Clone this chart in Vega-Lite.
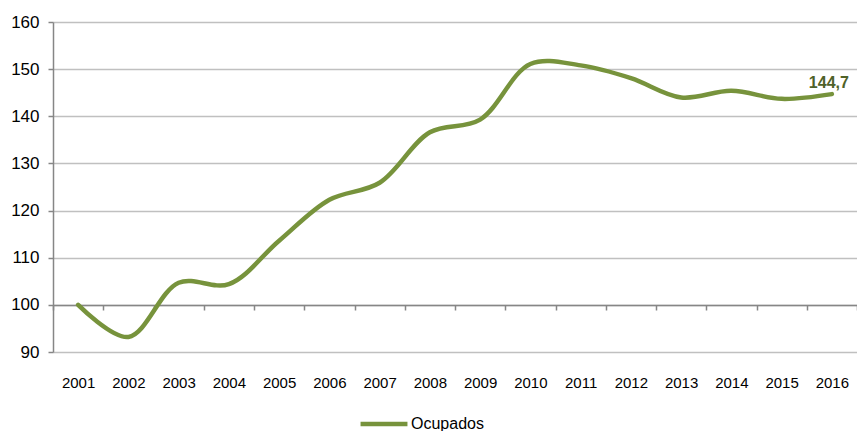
{
  "$schema": "https://vega.github.io/schema/vega-lite/v6.json",
  "width": 804,
  "height": 330,
  "autosize": "none",
  "padding": {"left": 53, "top": 22, "right": 0, "bottom": 79},
  "background": "white",
  "config": {
    "font": "Liberation Sans",
    "view": {"stroke": null}
  },
  "data": {
    "values": [
      {"year": "2001", "value": 100.0},
      {"year": "2002", "value": 93.2},
      {"year": "2003", "value": 104.7},
      {"year": "2004", "value": 104.4},
      {"year": "2005", "value": 113.6},
      {"year": "2006", "value": 122.3},
      {"year": "2007", "value": 125.9},
      {"year": "2008", "value": 136.6},
      {"year": "2009", "value": 139.3},
      {"year": "2010", "value": 151.1},
      {"year": "2011", "value": 150.8},
      {"year": "2012", "value": 148.1},
      {"year": "2013", "value": 144.0},
      {"year": "2014", "value": 145.4},
      {"year": "2015", "value": 143.7},
      {"year": "2016", "value": 144.7, "label": "144,7"}
    ]
  },
  "encoding": {
    "x": {
      "field": "year",
      "type": "ordinal",
      "scale": {"type": "band", "paddingInner": 0, "paddingOuter": 0},
      "axis": {
        "title": null,
        "orient": "bottom",
        "offset": -47,
        "tickBand": "extent",
        "grid": false,
        "domainColor": "#868686",
        "domainWidth": 1.5,
        "tickColor": "#868686",
        "tickWidth": 1.5,
        "tickSize": 5,
        "labelPadding": 65,
        "labelFontSize": 15,
        "labelColor": "#000000",
        "labelAngle": 0
      }
    },
    "y": {
      "field": "value",
      "type": "quantitative",
      "scale": {"domain": [90, 160], "nice": false, "zero": false},
      "axis": {
        "title": null,
        "values": [90, 100, 110, 120, 130, 140, 150, 160],
        "grid": true,
        "gridColor": "#c0c0c0",
        "gridWidth": 1.5,
        "domainColor": "#868686",
        "domainWidth": 1.5,
        "tickColor": "#868686",
        "tickWidth": 1.5,
        "tickSize": 5,
        "labelPadding": 9,
        "labelFontSize": 17,
        "labelColor": "#000000"
      }
    }
  },
  "layer": [
    {
      "mark": {"type": "line", "interpolate": "catmull-rom", "strokeWidth": 4.5, "strokeCap": "round"},
      "encoding": {
        "color": {
          "datum": "Ocupados",
          "type": "nominal",
          "scale": {"range": ["#77933C"]},
          "legend": {
            "title": null,
            "orient": "none",
            "legendX": 305,
            "legendY": 376,
            "padding": 0,
            "direction": "horizontal",
            "symbolType": "stroke",
            "symbolSize": 2200,
            "symbolStrokeWidth": 4.5,
            "labelFontSize": 16,
            "labelColor": "#000000",
            "labelOffset": 1
          }
        }
      }
    },
    {
      "transform": [{"filter": "datum.label != null"}],
      "mark": {"type": "text", "fontWeight": "bold", "fontSize": 16, "color": "#4F6228", "align": "center", "baseline": "alphabetic", "dy": -6, "dx": -3},
      "encoding": {"text": {"field": "label"}}
    }
  ]
}
